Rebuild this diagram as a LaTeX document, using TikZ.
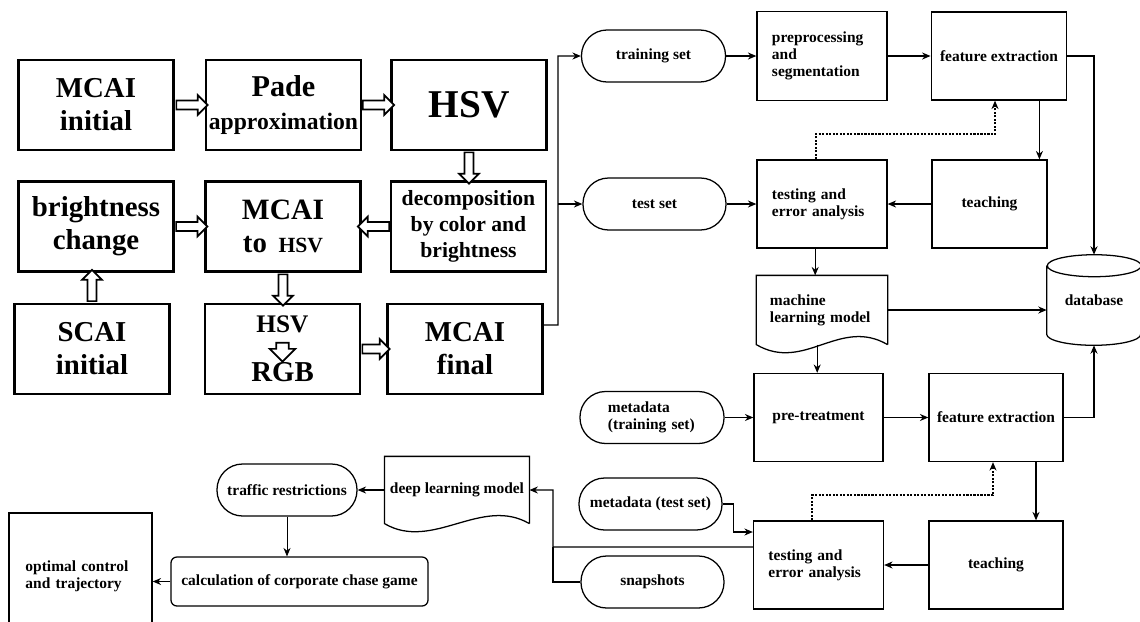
\documentclass[tikz,border=0pt]{standalone}
\usepackage{fontspec}
\setmainfont{Liberation Serif}
\usetikzlibrary{arrows.meta,positioning,shapes.arrows,calc}
\newcommand{\fsz}[2]{\fontsize{#1}{#2}\selectfont}
\hyphenpenalty=10000
\exhyphenpenalty=10000

\begin{document}
\begin{tikzpicture}[x=0.025cm,y=-0.025cm,
  bigbox/.style={draw,line width=1.8pt,minimum width=3.88cm,minimum height=2.25cm,align=center,inner sep=2pt,font=\bfseries\fsz{20.5}{23.5}},
  hollow/.style={single arrow,draw,fill=white,line width=1.2pt,minimum height=0.78cm,inner sep=2.6pt,single arrow head extend=3.8pt,sloped,allow upside down},
  procbox/.style={draw,line width=0.9pt,minimum width=3.25cm,minimum height=2.2cm,align=center,font=\bfseries\fsz{11}{12}},
  term/.style={draw,line width=0.9pt,rounded corners=0.64cm,minimum width=3.6cm,minimum height=1.3cm,align=center,font=\bfseries\fsz{11}{12}},
  flow/.style={-{Stealth[length=6pt,width=5pt]},line width=0.9pt},
  link/.style={line width=0.9pt},
  dotflow/.style={densely dotted,line width=1.5pt,-{Stealth[length=6pt,width=5pt]}}]
  \useasboundingbox (0,0) rectangle (1140,621);

  % colour model chain
  \node[bigbox] (mcaiini) at (96,105) {MCAI\\initial};
  \node[bigbox] (pade) at (283.5,105) {\fsz{21.5}{19}Pade\\\fsz{16.8}{19}approximation};
  \node[bigbox] (hsv) at (469,105) {\fsz{28}{30}HSV};
  \node[bigbox] (bright) at (96,226.5) {\fsz{20.5}{20.6}brightness\\change};
  \node[bigbox] (mcaihsv) at (283,226.5) {\fsz{21}{26}MCAI\\to\hspace{0.4em}{\fsz{15.4}{18}HSV}};
  \node[bigbox,font=\bfseries\fsz{15.4}{18.5}] (decomp) at (468.5,226.5) {decomposition\\by color and\\brightness};
  \node[bigbox] (scai) at (92,349) {\fsz{20.5}{25}SCAI\\initial};
  \node[bigbox] (hsvrgb) at (282.5,349) {{\fsz{18}{24}HSV}\\[11pt]RGB};
  \node[single arrow,draw,fill=white,line width=1.2pt,minimum height=0.3cm,inner sep=3.9pt,single arrow head extend=4.6pt,rotate=-90] (conv) at (hsvrgb.center) {};
  \node[bigbox] (mcaifin) at (465,349) {\fsz{20.5}{22}MCAI\\final};

  \path (mcaiini) -- node[hollow]{} (pade);
  \path (pade) -- node[hollow]{} (hsv);
  \path (hsv.south) -- node[hollow]{} (hsv.south |- decomp.north);
  \path (decomp) -- node[hollow]{} (mcaihsv);
  \path (bright) -- node[hollow]{} (mcaihsv);
  \path (mcaihsv.south) -- node[hollow]{} (mcaihsv.south |- hsvrgb.north);
  \path (scai.north) -- node[hollow]{} (scai.north |- bright.south);
  \path (hsvrgb) -- node[hollow,minimum height=0.68cm]{} (mcaifin);

  % learning part
  \node[term] (train) at (653.5,56) {training set};
  \node[procbox,minimum height=2.225cm,text width=2.5cm,align=left] (prep) at (822,56) {preprocessing\\and\\segmentation};
  \node[procbox,minimum width=3.39cm] (fe1) at (999,56) {feature extraction};
  \node[term,minimum width=3.575cm] (test) at (654.5,204) {test set};
  \node[procbox,text width=2.5cm,align=left] (testing1) at (822,204) {testing and\\error analysis};
  \node[procbox,minimum width=2.875cm] (teach1) at (989.5,204) {teaching};
  \node[procbox,draw=none,minimum height=1.7cm,text width=2.6cm,align=left] (ml) at (822,310) {machine\\learning model};
  \draw[link] (ml.south east) -- (ml.north east) -- (ml.north west) -- (ml.south west) .. controls +(1.2cm,-0.7cm) and +(-1.2cm,0.7cm) .. (ml.south east);
  \node[minimum width=2.35cm,minimum height=1.7cm,font=\bfseries\fsz{11}{12}] (db) at (1094,300) {database};
  \draw[link] (db.north west) -- (db.south west) arc[start angle=180,end angle=360,x radius=1.175cm,y radius=0.275cm] -- (db.north east) arc[start angle=0,end angle=360,x radius=1.175cm,y radius=0.275cm];
  \node[procbox,minimum width=3.225cm] (pretreat) at (818.5,417.5) {pre-treatment};
  \node[procbox,minimum width=3.35cm] (fe2) at (996,417.5) {feature extraction};
  \node[term,text width=2.2cm,align=left] (mdtrain) at (652,417.5) {metadata\\(training set)};
  \node[term,minimum width=3.575cm] (mdtest) at (650.5,504) {metadata (test set)};
  \node[procbox,text width=2.5cm,align=left] (testing2) at (818.5,565) {testing and\\error analysis};
  \node[procbox,minimum width=3.35cm] (teach2) at (996,565) {teaching};
  \node[term,minimum width=3.575cm] (snap) at (652.5,582) {snapshots};
  \node[procbox,draw=none,minimum width=3.59cm,minimum height=1.65cm] (dlm) at (457,490) {deep learning model};
  \draw[link] (dlm.south east) -- (dlm.north east) -- (dlm.north west) -- (dlm.south west) .. controls +(1.2cm,-0.7cm) and +(-1.2cm,0.7cm) .. (dlm.south east);
  \node[term,minimum width=3.5cm] (traffic) at (287,490) {traffic restrictions};
  \node[procbox,rounded corners=0.15cm,minimum width=6.425cm,minimum height=1.225cm] (calc) at (299.5,581.5) {calculation of corporate chase game};
  \node[procbox,minimum width=3.575cm,minimum height=3.175cm,text width=2.75cm,align=left] (optimal) at (80.5,576.5) {optimal control\\and trajectory};

  \coordinate (bus) at (558,325);
  \coordinate (join) at (553,547);
  \draw[flow] ([yshift=0.6cm]mcaifin.east) -- (bus) |- (train);
  \draw[flow] (bus |- test) -- (test);
  \draw[flow] (train) -- (prep);
  \draw[flow] (prep) -- (fe1);
  \draw[flow] (fe1.east) -| ([yshift=0.275cm]db.north);
  \draw[flow,line width=1.3pt] ([xshift=1.01cm]fe1.south) -- ([xshift=1.01cm]fe1.south |- teach1.north);
  \draw[dotflow] ([xshift=-0.16cm]testing1.north) -- ++(0cm,0.625cm) -| ([xshift=-0.1cm]fe1.south);
  \draw[flow] (test) -- (testing1);
  \draw[flow] (teach1) -- (testing1);
  \draw[flow] ([xshift=-0.17cm]testing1.south) -- ([xshift=-0.17cm]testing1.south |- ml.north);
  \draw[flow] (ml.east) -- (ml.east -| db.west);
  \draw[flow] ([xshift=-0.12cm]ml.south) -- ([xshift=-0.12cm]ml.south |- pretreat.north);
  \draw[flow] (mdtrain) -- (pretreat);
  \draw[flow] (pretreat) -- (fe2);
  \draw[flow] (fe2.east) -| ([yshift=-0.275cm]db.south);
  \draw[flow,line width=1.3pt] ([xshift=1.0cm]fe2.south) -- ([xshift=1.0cm]fe2.south |- teach2.north);
  \draw[dotflow] ([xshift=-0.16cm]testing2.north) -- ++(0cm,0.625cm) -| ([xshift=-0.075cm]fe2.south);
  \draw[flow] (mdtest.east) -- ++(0.275cm,0cm) |- ([yshift=0.825cm]testing2.west);
  \draw[flow] (teach2) -- (testing2);
  \draw[flow] ([yshift=0.45cm]testing2.west) -- (join) |- (dlm);
  \draw[link] (snap) -| (join);
  \draw[flow] (dlm) -- (traffic);
  \draw[flow,line width=0.6pt] (traffic.south) -- (traffic.south |- calc.north);
  \draw[flow] (calc) -- (calc -| optimal.east);
\end{tikzpicture}
\end{document}
